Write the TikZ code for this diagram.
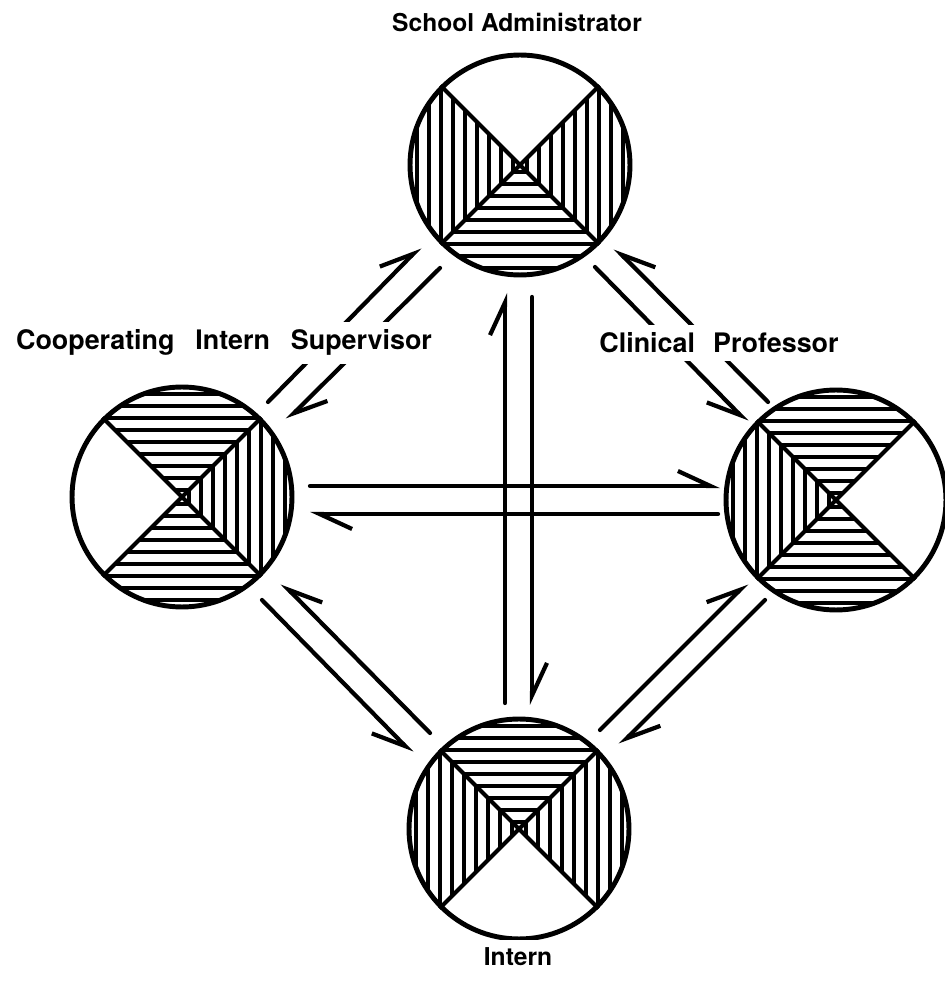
\documentclass[tikz,border=0pt]{standalone}
\usepackage{fontspec}
\setmainfont{TeX Gyre Heros}
\usetikzlibrary{arrows.meta, calc}

\tikzset{
    disc/.style={circle, draw, line width=2.8pt, minimum size=4.4cm, inner sep=0pt}, % the four roles
    hatch/.style={line width=2.2pt},
    cross/.style={line width=2.3pt},
    flow/.style={line width=2.4pt, line cap=round},
    flow left/.style={flow, -{Straight Barb[left, length=0.65cm, width=0.6cm, line width=2.4pt]}},
    flow right/.style={flow, -{Straight Barb[right, length=0.65cm, width=0.6cm, line width=2.4pt]}},
    role/.style={font=\bfseries\fontsize{14}{16}\selectfont, fill=white, inner sep=4.5pt, anchor=base},
    big role/.style={role, font=\bfseries\fontsize{15.3}{17}\selectfont},
}

% hatched quadrants of a disc: 0 = right, 90 = top, 180 = left, 270 = bottom
\newcommand{\hatchdisc}[2]{%
    \begin{scope}[shift={(#1)}]
        \clip (0,0) circle (109);
        \foreach \q in {#2} {
            \begin{scope}[rotate=\q]
                \clip (0,0) -- (150,150) -- (150,-150) -- cycle;
                \foreach \off in {7,19,...,103}
                    \draw[hatch] (\off,-120) -- (\off,120);
            \end{scope}
        }
    \end{scope}
    \draw[cross] (#1.45) -- (#1.225) (#1.135) -- (#1.315);
}

\begin{document}
\begin{tikzpicture}[x=0.02cm, y=0.02cm]
    \useasboundingbox (0,0) rectangle (945,981);

    % --- Roles ---
    \node[disc] (admin)  at (520,816) {};
    \node[disc] (coop)   at (182,484) {};
    \node[disc] (clin)   at (836,481) {};
    \node[disc] (intern) at (519,152) {};

    \hatchdisc{admin}{0,180,270}
    \hatchdisc{coop}{0,90,270}
    \hatchdisc{clin}{90,180,270}
    \hatchdisc{intern}{0,90,180}

    % --- Links ---
    % admin <-> coop
    \draw[flow left]  ($(coop)+(86,95)$)    -- ($(admin)+(-100,-82)$);
    \draw[flow left]  ($(admin)+(-80,-103)$) -- ($(coop)+(105,77)$);
    % admin <-> clin
    \draw[flow right] ($(clin)+(-68,98)$)   -- ($(admin)+(95,-83)$);
    \draw[flow right] ($(admin)+(75,-102)$) -- ($(clin)+(-89,78)$);
    % admin <-> intern
    \draw[flow left]  ($(intern)+(-14,126)$) -- ($(admin)+(-15,-128)$);
    \draw[flow left]  ($(admin)+(12,-132)$)  -- ($(intern)+(13,124)$);
    % coop <-> clin
    \draw[flow left]  ($(coop)+(128,11)$)   -- ($(clin)+(-116,14)$);
    \draw[flow left]  ($(clin)+(-118,-14)$) -- ($(coop)+(128,-17)$);
    % coop <-> intern
    \draw[flow right] ($(intern)+(-89,96)$)  -- ($(coop)+(100,-86)$);
    \draw[flow right] ($(coop)+(80,-103)$)   -- ($(intern)+(-107,76)$);
    % clin <-> intern
    \draw[flow left]  ($(intern)+(81,99)$)   -- ($(clin)+(-89,-83)$);
    \draw[flow left]  ($(clin)+(-71,-100)$)  -- ($(intern)+(101,84)$);

    % --- Labels ---
    \node[role] (admin label)      at (517,949) {School Administrator};
    \node[big role] (coop label)   at (224,631) {Cooperating\hspace{0.5em} Intern\hspace{0.5em} Supervisor};
    \node[big role] (clin label)   at (719,628) {Clinical\hspace{0.4em} Professor};
    \node[role] (intern label)     at (518,15)  {Intern};
\end{tikzpicture}
\end{document}
